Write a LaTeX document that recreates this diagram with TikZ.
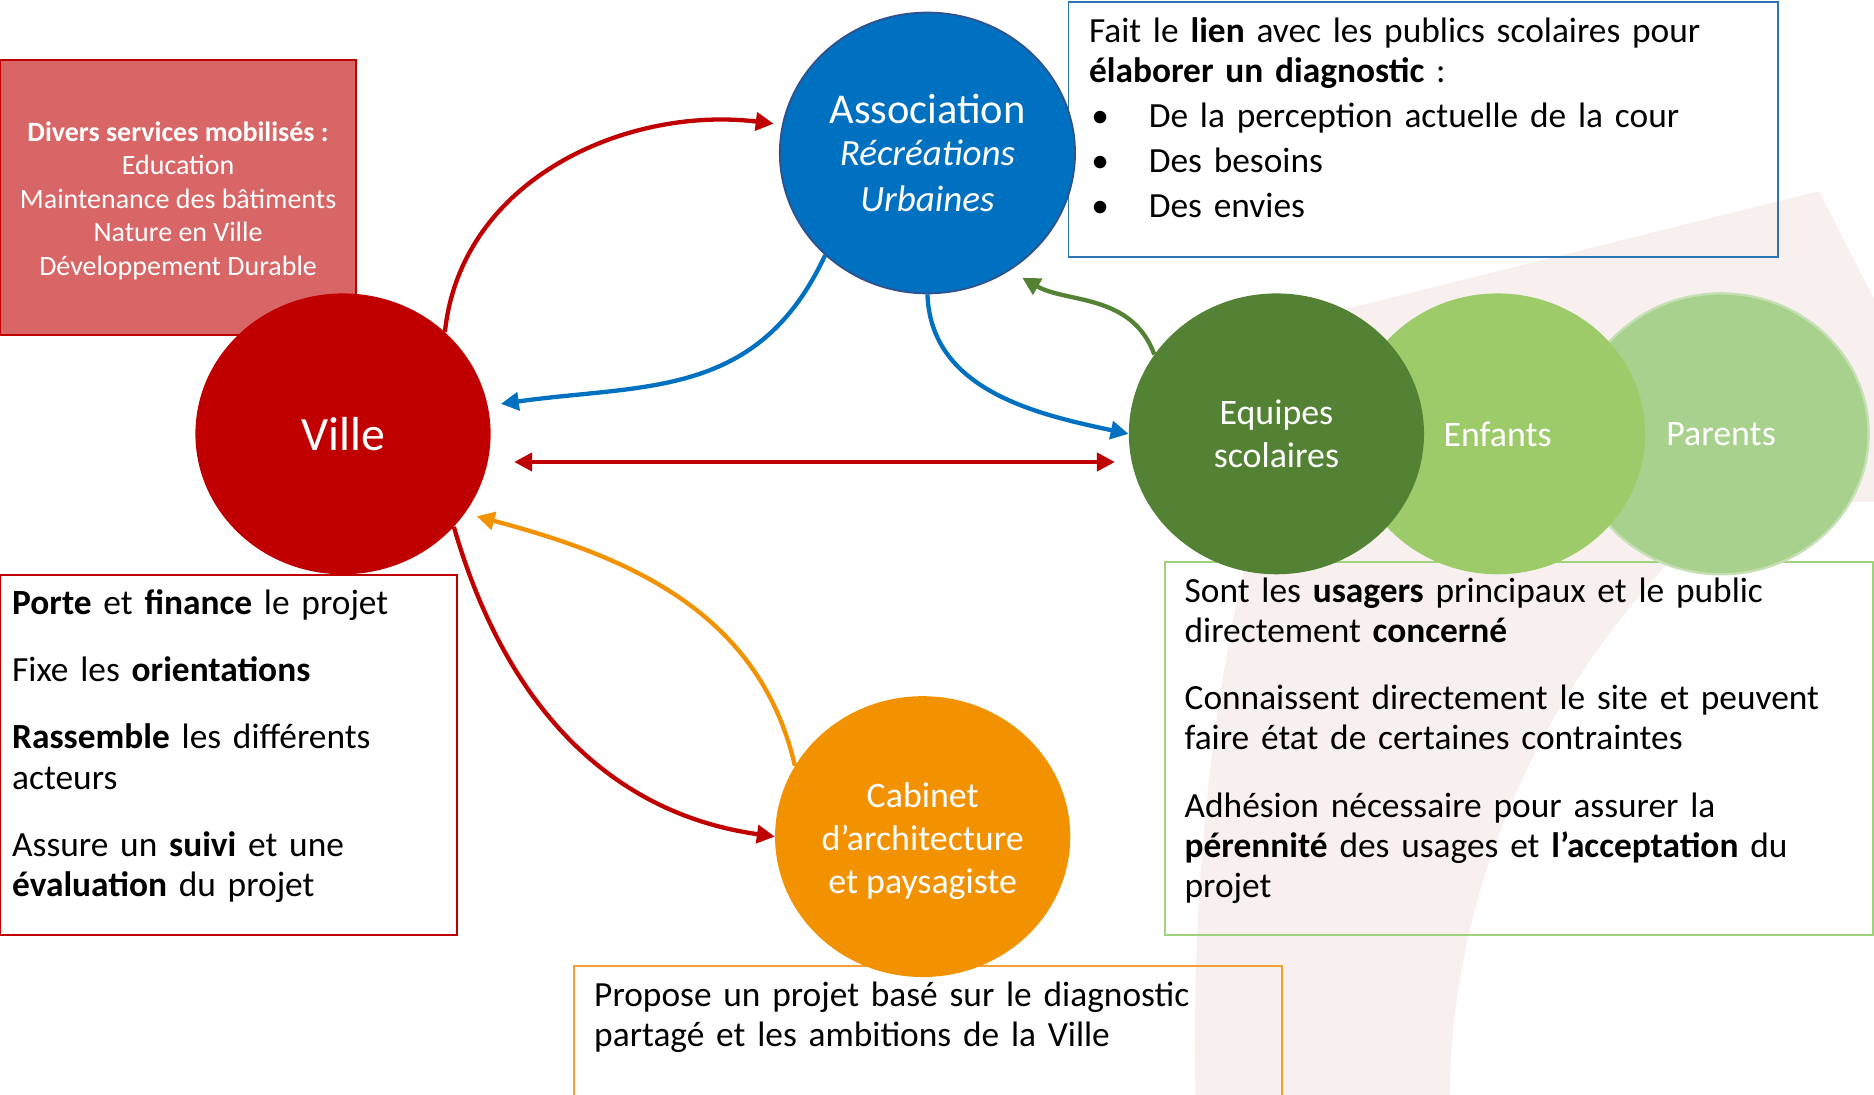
\documentclass[tikz,border=0pt]{standalone}
\usepackage{fontspec}
\setmainfont{Carlito}
\usetikzlibrary{arrows.meta,shapes.geometric}

\definecolor{villered}{HTML}{C00000}
\definecolor{diversred}{HTML}{D96666}
\definecolor{assoblue}{HTML}{0070C0}
\definecolor{assoedge}{HTML}{2F528F}
\definecolor{boxblue}{HTML}{2E75B6}
\definecolor{equipegreen}{HTML}{548235}
\definecolor{enfantgreen}{HTML}{9DCB6A}
\definecolor{parentgreen}{HTML}{A9D18E}
\definecolor{parentedge}{HTML}{C5E0B4}
\definecolor{boxgreen}{HTML}{9FD27A}
\definecolor{cabinetorange}{HTML}{F39200}
\definecolor{boxorange}{HTML}{F5A033}
\definecolor{markpink}{HTML}{F7F0EE}

\begin{document}
\begin{tikzpicture}[x=1pt, y=1pt, > = {Triangle[length=15pt,width=15pt]},
bubble/.style = {ellipse, minimum width=247pt, minimum height=235pt, inner sep=0pt, text=white, align=center},
frame/.style = {line width=1.6pt},
txt/.style = {anchor=base west, inner sep=0pt, text width=#1, align=left, font=\fontsize{29.6}{33.6}\selectfont},
link/.style = {->, line width=3.6pt},
]
	\useasboundingbox (0,0) rectangle (1568,-916);

	% watermark behind everything
	\fill[markpink] (1128,-258) -- (1522,-160) -- (1568,-250) -- (1568,-420) -- (1450,-420)
		.. controls (1330,-520) and (1215,-700) .. (1213,-916) -- (1000,-916)
		.. controls (995,-650) and (1040,-380) .. (1128,-258) -- cycle;

	\node[fill=diversred, draw=villered, line width=1.6pt, minimum width=298pt, minimum height=230pt] (divers) at (149,-165) {};
	\node[text=white, align=center, font=\fontsize{23.4}{28}\selectfont] (diverstext) at (149,-168)
		{\textbf{Divers services mobilisés :}\\Education\\Maintenance des bâtiments\\Nature en Ville\\Développement Durable};

	% text frames
	\draw[frame, boxblue] (894,-2) rectangle (1488,-215);
	\draw[frame, villered] (0,-481) rectangle (382,-782);
	\draw[frame, boxgreen] (975,-470) rectangle (1567,-782);
	\draw[frame, boxorange] (480,-920) |- (1073,-808) -- (1073,-920);

	\node[txt=570pt] (assotext) at (911,-35.5) {Fait le \textbf{lien} avec les publics scolaires pour\\
		\textbf{élaborer un diagnostic} :\\[4pt]
		\makebox[50pt][l]{\hspace*{2pt}\textbullet}De la perception actuelle de la cour\\[4pt]
		\makebox[50pt][l]{\hspace*{2pt}\textbullet}Des besoins\\[4pt]
		\makebox[50pt][l]{\hspace*{2pt}\textbullet}Des envies};
	\node[txt=370pt] (villetext) at (10,-514) {\textbf{Porte} et \textbf{finance} le projet\\[22.7pt]
		Fixe les \textbf{orientations}\\[22.7pt]
		\textbf{Rassemble} les différents\\acteurs\\[22.7pt]
		Assure un \textbf{suivi} et une\\\textbf{évaluation} du projet};
	\node[txt=570pt] (publictext) at (991,-504) {Sont les \textbf{usagers} principaux et le public\\directement \textbf{concerné}\\[22.7pt]
		Connaissent directement le site et peuvent\\faire état de certaines contraintes\\[22.7pt]
		Adhésion nécessaire pour assurer la\\\textbf{pérennité} des usages et \textbf{l’acceptation} du\\projet};
	\node[txt=570pt] (cabinettext) at (497,-842) {Propose un projet basé sur le diagnostic\\partagé et les ambitions de la Ville};

	% actors
	\node[bubble, fill=parentgreen, draw=parentedge, line width=2pt, font=\fontsize{30}{36}\selectfont] (parents) at (1440,-363) {Parents};
	\node[bubble, fill=enfantgreen, font=\fontsize{30}{36}\selectfont] (enfants) at (1253,-363) {Enfants};
	\node[bubble, fill=equipegreen, font=\fontsize{30}{36}\selectfont] (equipes) at (1068,-363) {Equipes\\scolaires};
	\node[bubble, fill=villered, font=\fontsize{40}{46}\selectfont] (ville) at (287,-363) {Ville};
	\node[bubble, fill=assoblue, draw=assoedge, line width=1.5pt, font=\fontsize{31}{39}\selectfont] (asso) at (776,-128)
		{\raisebox{-3pt}{\fontsize{35.5}{39}\selectfont Association}\\[-1pt]\textit{Récréations}\\\textit{Urbaines}};
	\node[bubble, fill=cabinetorange] (cabinet) at (772,-700) {};
	\node[text=white, align=center, font=\fontsize{30}{36}\selectfont] (cabinetlabel) at (772,-704)
		{Cabinet\\d’architecture\\et paysagiste};

	% links
	\draw[link, villered, shorten >=7pt] (ville.45) to[out=84, in=173] (asso.169);
	\draw[link, assoblue, shorten >=11pt] (asso.225) to[out=-115, in=8, looseness=1.1] (ville.11);
	\draw[link, <->, villered, shorten <=22pt, shorten >=14pt] (ville.-11) -- (equipes.191);
	\draw[link, assoblue] (asso.south) to[out=-88, in=168] (equipes.west);
	\draw[link, equipegreen, shorten >=12pt] (equipes.147) to[out=110, in=-30] (asso.-55);
	\draw[link, villered] (ville.-40) to[out=-74, in=172] (cabinet.west);
	\draw[link, cabinetorange, shorten >=10pt] (cabinet.151) to[out=103, in=-15] (ville.-33);
\end{tikzpicture}
\end{document}
